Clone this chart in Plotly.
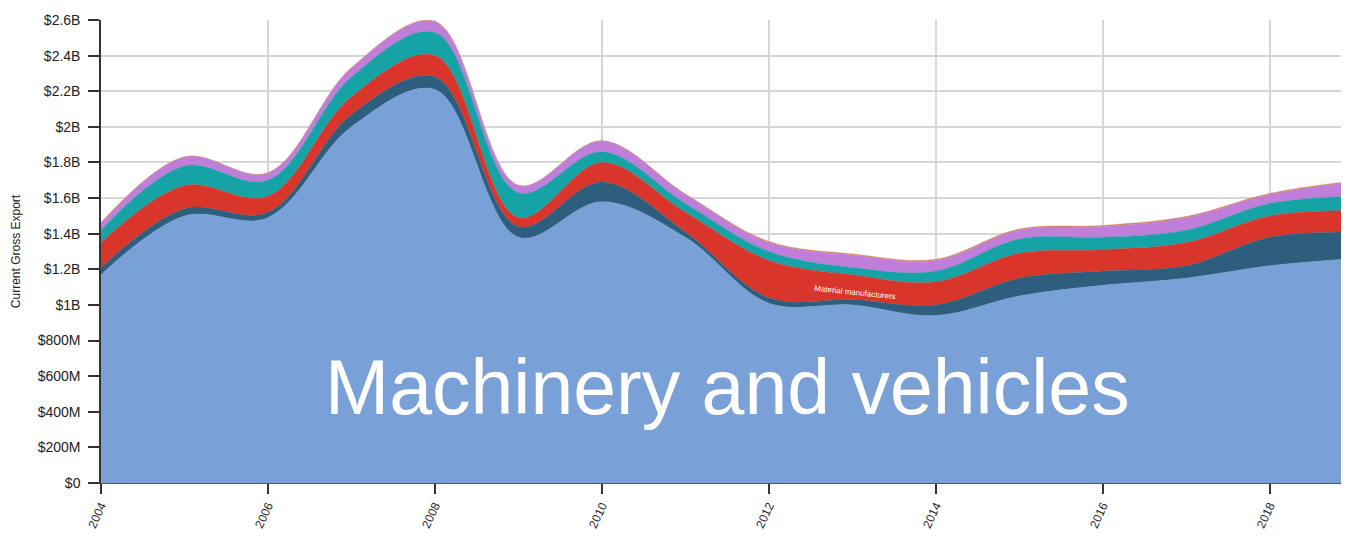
import plotly.graph_objects as go

years = list(range(2004, 2020))

# Export values by category (billions USD), stacked bottom to top
machinery = [1.17, 1.50, 1.49, 2.00, 2.21, 1.38, 1.58, 1.38, 1.01, 1.00, 0.94, 1.05, 1.11, 1.15, 1.22, 1.26]
chemicals = [0.04, 0.04, 0.03, 0.07, 0.07, 0.06, 0.11, 0.03, 0.03, 0.03, 0.06, 0.10, 0.08, 0.07, 0.16, 0.15]
material_mfg = [0.14, 0.13, 0.09, 0.10, 0.12, 0.05, 0.11, 0.11, 0.21, 0.14, 0.13, 0.14, 0.12, 0.13, 0.12, 0.12]
misc_mfg = [0.07, 0.11, 0.09, 0.11, 0.13, 0.14, 0.06, 0.05, 0.05, 0.04, 0.06, 0.08, 0.07, 0.07, 0.07, 0.08]
food = [0.04, 0.05, 0.04, 0.05, 0.06, 0.04, 0.06, 0.05, 0.05, 0.07, 0.06, 0.05, 0.06, 0.07, 0.05, 0.08]
other = [0.002, 0.002, 0.002, 0.002, 0.002, 0.002, 0.002, 0.003, 0.006, 0.006, 0.006, 0.006, 0.006, 0.006, 0.006, 0.006]

series = [
    ("Machinery and vehicles", machinery, "#7aa0d8"),
    ("Chemicals", chemicals, "#2d5e7e"),
    ("Material manufacturers", material_mfg, "#d9352a"),
    ("Miscellaneous manufacturers", misc_mfg, "#16a3a6"),
    ("Food", food, "#c07edb"),
    ("Other", other, "#d4845c"),
]

y_tickvals = [0, 0.2, 0.4, 0.6, 0.8, 1.0, 1.2, 1.4, 1.6, 1.8, 2.0, 2.2, 2.4, 2.6]
y_ticktext = ["$0", "$200M", "$400M", "$600M", "$800M", "$1B", "$1.2B", "$1.4B",
              "$1.6B", "$1.8B", "$2B", "$2.2B", "$2.4B", "$2.6B"]
x_tickvals = [2004, 2006, 2008, 2010, 2012, 2014, 2016, 2018]

fig = go.Figure()
for name, vals, color in series:
    fig.add_trace(go.Scatter(
        x=years, y=vals, name=name, stackgroup="one",
        mode="lines", line=dict(shape="spline", smoothing=1.0, width=0.5, color=color),
        fillcolor=color, hoverinfo="x+y+name",
    ))

fig.add_annotation(x=2011.5, y=0.54, text="Machinery and vehicles", showarrow=False,
                   font=dict(family="Arial, Liberation Sans, sans-serif", size=77, color="white"),
                   xanchor="center", yanchor="middle")
fig.add_annotation(x=2013.03, y=1.07, text="Material manufacturers", showarrow=False,
                   textangle=6,
                   font=dict(family="Arial, Liberation Sans, sans-serif", size=8, color="white"),
                   xanchor="center", yanchor="middle")

fig.update_layout(
    width=1341, height=528,
    margin=dict(l=93, r=0, t=12, b=53),
    plot_bgcolor="white", paper_bgcolor="white",
    showlegend=False,
    font=dict(family="Arial, Liberation Sans, sans-serif", size=13, color="#222"),
    xaxis=dict(
        range=[2004, 2018.95], tickvals=x_tickvals, ticktext=[str(v) for v in x_tickvals],
        tickangle=-65, ticks="outside", ticklen=10, tickcolor="#333", tickwidth=1.5,
        showgrid=True, gridcolor="#d6d6d6", gridwidth=1.5,
        showline=True, linecolor="#555", linewidth=1, zeroline=False,
        tickfont=dict(size=12, color="#222"),
        automargin=False,
    ),
    yaxis=dict(
        range=[0, 2.6], tickvals=y_tickvals, ticktext=y_ticktext,
        ticks="outside", ticklen=11, tickcolor="#333", tickwidth=1.5,
        ticklabelstandoff=5,
        showgrid=True, gridcolor="#d6d6d6", gridwidth=1.5,
        showline=True, linecolor="#333", linewidth=1.5, zeroline=False,
        title=dict(text="Current Gross Export", font=dict(size=12, color="#222"), standoff=14),
        tickfont=dict(size=14, color="#222"),
        automargin=False,
    ),
)

fig.write_html("out.html")
